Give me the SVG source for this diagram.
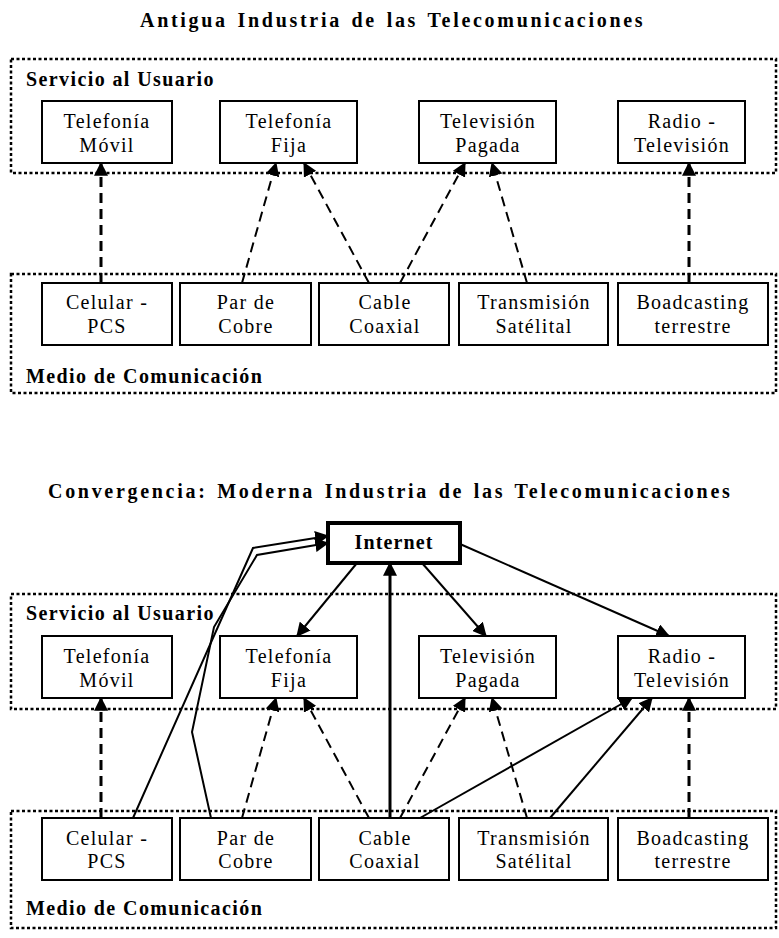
<svg xmlns="http://www.w3.org/2000/svg" width="779" height="938" viewBox="0 0 779 938">
<style>
.title{font-family:"Liberation Serif","Times New Roman",serif;font-size:20px;font-weight:bold;letter-spacing:2.7px;word-spacing:2px;fill:#000}
.glabel{font-family:"Liberation Serif","Times New Roman",serif;font-size:20px;font-weight:bold;letter-spacing:1.4px;fill:#000}
.nt{font-family:"Liberation Serif","Times New Roman",serif;font-size:20px;letter-spacing:1.3px;text-anchor:middle;fill:#000}
.nb{font-family:"Liberation Serif","Times New Roman",serif;font-size:20px;font-weight:bold;letter-spacing:1.1px;text-anchor:middle;fill:#000}
.box{fill:#fff;stroke:#000;stroke-width:2}
.grp{fill:none;stroke:#000;stroke-width:2.5;stroke-dasharray:3 2.5}
.dash{fill:none;stroke:#000;stroke-width:2;stroke-dasharray:10 6;marker-end:url(#ah)}
.dashv{fill:none;stroke:#000;stroke-width:3;stroke-dasharray:10 6;marker-end:url(#ah)}
.sol{fill:none;stroke:#000;stroke-width:2;stroke-linejoin:miter;marker-end:url(#ah)}
</style>
<defs>
<marker id="ah" markerUnits="userSpaceOnUse" markerWidth="14" markerHeight="14" viewBox="0 0 12 12" refX="11" refY="6" orient="auto">
<path d="M0,0 L12,6 L0,12 z" fill="#000"/>
</marker>
</defs>

<text class="title" x="140" y="27">Antigua Industria de las Telecomunicaciones</text>
<text class="title" x="48" y="498">Convergencia: Moderna Industria de las Telecomunicaciones</text>

<g id="servicio1">
<rect class="grp" x="11" y="59" width="765" height="114"/>
<text class="glabel" x="26" y="86">Servicio al Usuario</text>
</g>
<g id="medio1">
<rect class="grp" x="11" y="274" width="765" height="119"/>
<text class="glabel" x="26" y="383">Medio de Comunicación</text>
</g>
<g id="servicio2">
<rect class="grp" x="11" y="594" width="765" height="115"/>
<text class="glabel" x="26" y="620">Servicio al Usuario</text>
</g>
<g id="medio2">
<rect class="grp" x="11" y="811" width="765" height="117"/>
<text class="glabel" x="26" y="915">Medio de Comunicación</text>
</g>

<g id="connectors">
<path class="dashv" d="M101,283 L101,163"/>
<path class="dash" d="M242,283 L276,163"/>
<path class="dash" d="M369,283 L304,163"/>
<path class="dash" d="M400,283 L465,163"/>
<path class="dash" d="M527,283 L492,163"/>
<path class="dashv" d="M689,283 L689,163"/>

<path class="dashv" d="M101,818 L101,698"/>
<path class="dash" d="M242,818 L276,698"/>
<path class="dash" d="M369,818 L304,698"/>
<path class="dash" d="M400,818 L465,698"/>
<path class="dash" d="M527,818 L492,698"/>
<path class="dashv" d="M689,818 L689,698"/>

<path class="sol" d="M133,818 L253,548 L328,536"/>
<path class="sol" d="M211,818 L192,732 L214,627 L257,555 L328,543"/>
<path class="sol" style="stroke-width:3" d="M390,818 L390,563"/>
<path class="sol" d="M357,563 L297,636"/>
<path class="sol" d="M422,563 L486,636"/>
<path class="sol" d="M460,544 L669,636"/>
<path class="sol" d="M420,818 L632,698"/>
<path class="sol" d="M550,818 L652,698"/>
</g>

<g id="tel-movil-1"><rect class="box" x="42" y="101" width="130" height="62"/><text class="nt" x="107" y="128">Telefonía</text><text class="nt" x="107" y="152">Móvil</text></g>
<g id="tel-fija-1"><rect class="box" x="220" y="101" width="137" height="62"/><text class="nt" x="289" y="128">Telefonía</text><text class="nt" x="289" y="152">Fija</text></g>
<g id="tv-pagada-1"><rect class="box" x="419" y="101" width="137" height="62"/><text class="nt" x="488" y="128">Televisión</text><text class="nt" x="488" y="152">Pagada</text></g>
<g id="radio-tv-1"><rect class="box" x="618" y="101" width="127" height="62"/><text class="nt" x="682" y="128">Radio -</text><text class="nt" x="682" y="152">Televisión</text></g>

<g id="celular-1"><rect class="box" x="42" y="283" width="130" height="62"/><text class="nt" x="107" y="309">Celular -</text><text class="nt" x="107" y="333">PCS</text></g>
<g id="par-cobre-1"><rect class="box" x="180" y="283" width="131" height="62"/><text class="nt" x="246" y="309">Par de</text><text class="nt" x="246" y="333">Cobre</text></g>
<g id="cable-1"><rect class="box" x="319" y="283" width="130" height="62"/><text class="nt" x="385" y="309">Cable</text><text class="nt" x="385" y="333">Coaxial</text></g>
<g id="satelital-1"><rect class="box" x="459" y="283" width="149" height="62"/><text class="nt" x="534" y="309">Transmisión</text><text class="nt" x="534" y="333">Satélital</text></g>
<g id="broadcast-1"><rect class="box" x="618" y="283" width="150" height="62"/><text class="nt" x="693" y="309">Boadcasting</text><text class="nt" x="693" y="333">terrestre</text></g>

<g id="internet"><rect class="box" style="stroke-width:4" x="328" y="523" width="132" height="40"/><text class="nb" x="394" y="549">Internet</text></g>

<g id="tel-movil-2"><rect class="box" x="42" y="636" width="130" height="62"/><text class="nt" x="107" y="663">Telefonía</text><text class="nt" x="107" y="687">Móvil</text></g>
<g id="tel-fija-2"><rect class="box" x="220" y="636" width="137" height="62"/><text class="nt" x="289" y="663">Telefonía</text><text class="nt" x="289" y="687">Fija</text></g>
<g id="tv-pagada-2"><rect class="box" x="419" y="636" width="137" height="62"/><text class="nt" x="488" y="663">Televisión</text><text class="nt" x="488" y="687">Pagada</text></g>
<g id="radio-tv-2"><rect class="box" x="618" y="636" width="127" height="62"/><text class="nt" x="682" y="663">Radio -</text><text class="nt" x="682" y="687">Televisión</text></g>

<g id="celular-2"><rect class="box" x="42" y="818" width="130" height="62"/><text class="nt" x="107" y="845">Celular -</text><text class="nt" x="107" y="868">PCS</text></g>
<g id="par-cobre-2"><rect class="box" x="180" y="818" width="131" height="62"/><text class="nt" x="246" y="845">Par de</text><text class="nt" x="246" y="868">Cobre</text></g>
<g id="cable-2"><rect class="box" x="319" y="818" width="130" height="62"/><text class="nt" x="385" y="845">Cable</text><text class="nt" x="385" y="868">Coaxial</text></g>
<g id="satelital-2"><rect class="box" x="459" y="818" width="149" height="62"/><text class="nt" x="534" y="845">Transmisión</text><text class="nt" x="534" y="868">Satélital</text></g>
<g id="broadcast-2"><rect class="box" x="618" y="818" width="150" height="62"/><text class="nt" x="693" y="845">Boadcasting</text><text class="nt" x="693" y="868">terrestre</text></g>
</svg>
